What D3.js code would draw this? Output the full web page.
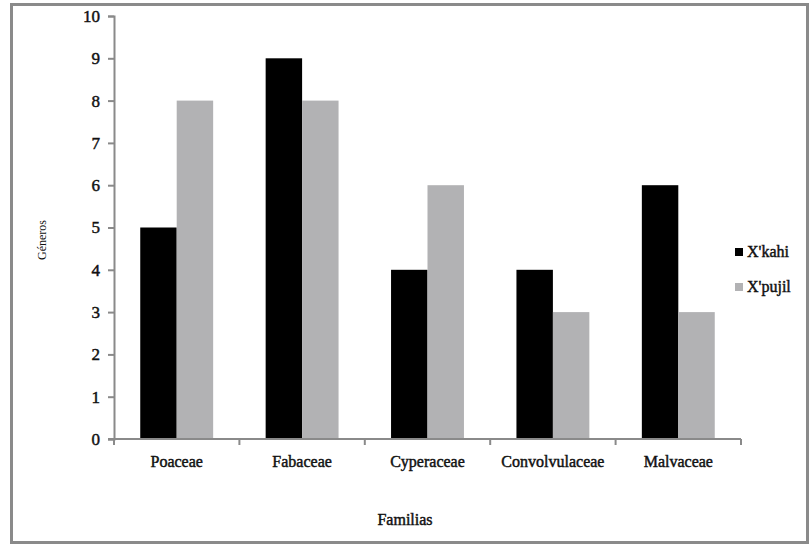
<!DOCTYPE html>
<html>
<head>
<meta charset="utf-8">
<script src="https://cdn.jsdelivr.net/npm/d3@7"></script>
<style>
  body { margin: 0; background: #fff; }
  svg text { font-family: "Times New Roman", "Liberation Serif", "DejaVu Serif", serif !important; fill: #111; }
  .lab { stroke: #111; stroke-width: 0.45px; }
</style>
</head>
<body>
<div id="chart"></div>
<script>
// chart data
var familias = ["Poaceae", "Fabaceae", "Cyperaceae", "Convolvulaceae", "Malvaceae"];
var series = ["X'kahi", "X'pujil"];
var xkahi = [5, 9, 4, 4, 6];
var xpujil = [8, 8, 6, 3, 3];
var yTicks = [0, 1, 2, 3, 4, 5, 6, 7, 8, 9, 10];
var colors = ["#000000", "#b2b2b4"];

var width = 811, height = 546;
var margin = {top: 16, left: 114, right: 70, bottom: 107};

var svg = d3.select("#chart").append("svg")
    .attr("width", width)
    .attr("height", height);

// outer frame
svg.append("rect")
    .attr("x", 11.5).attr("y", 4.5)
    .attr("width", 796).attr("height", 538)
    .attr("fill", "#fff")
    .attr("stroke", "#8a8a8a")
    .attr("stroke-width", 3);

var x = d3.scaleBand()
    .domain(familias)
    .range([margin.left, 741]);

var xInner = d3.scaleBand()
    .domain(series)
    .range([0, x.bandwidth()])
    .paddingInner(0)
    .paddingOuter(0.72);

var y = d3.scaleLinear()
    .domain([0, 10])
    .range([439, margin.top]);

var rows = familias.map(function(f, i){
    return {fam: f, vals: [xkahi[i], xpujil[i]]};
});

// bars
var g = svg.selectAll(".grp").data(rows).enter().append("g")
    .attr("transform", function(d){ return "translate(" + x(d.fam) + ",0)"; });

g.selectAll("rect").data(function(d){
        return d.vals.map(function(v, j){ return {s: series[j], v: v, c: colors[j]}; });
    })
    .enter().append("rect")
    .attr("x", function(d){ return xInner(d.s); })
    .attr("width", xInner.bandwidth())
    .attr("y", function(d){ return y(d.v); })
    .attr("height", function(d){ return y(0) - y(d.v); })
    .attr("fill", function(d){ return d.c; });

// y axis
var yAxis = svg.append("g")
    .attr("transform", "translate(" + margin.left + ",0)")
    .call(d3.axisLeft(y).tickValues(yTicks).tickSize(6).tickPadding(8).tickFormat(d3.format("d")));
yAxis.attr("font-family", null);
yAxis.selectAll("path, line").attr("stroke", "#8a8a8a").attr("stroke-width", 2);
yAxis.selectAll("text").attr("font-size", 17).attr("class", "lab");

// x axis: ticks at the band edges
var xAxis = svg.append("g")
    .attr("transform", "translate(0," + y(0) + ")");
xAxis.append("line")
    .attr("x1", margin.left - 6).attr("x2", 741)
    .attr("stroke", "#8a8a8a").attr("stroke-width", 2);
var edges = familias.map(function(f){ return x(f); }).concat([741]);
xAxis.selectAll(".edge").data(edges).enter().append("line")
    .attr("x1", function(d){ return d; }).attr("x2", function(d){ return d; })
    .attr("y1", 0).attr("y2", 6)
    .attr("stroke", "#8a8a8a").attr("stroke-width", 2);
xAxis.selectAll(".lbl").data(familias).enter().append("text")
    .attr("class", "lab")
    .attr("x", function(d){ return x(d) + x.bandwidth() / 2; })
    .attr("y", 28)
    .attr("text-anchor", "middle")
    .attr("font-size", 16)
    .text(function(d){ return d; });

// axis titles
svg.append("text")
    .attr("class", "lab")
    .attr("x", 405).attr("y", 525)
    .attr("text-anchor", "middle")
    .attr("font-size", 16)
    .text("Familias");

svg.append("text")
    .attr("transform", "translate(46,240) rotate(-90)")
    .attr("text-anchor", "middle")
    .attr("font-size", 12)
    .text("Géneros");

// legend
var leg = svg.selectAll(".leg").data(series).enter().append("g")
    .attr("transform", function(d, i){ return "translate(735," + (248 + i * 35) + ")"; });
leg.append("rect")
    .attr("width", 8).attr("height", 8)
    .attr("fill", function(d, i){ return colors[i]; });
leg.append("text")
    .attr("class", "lab")
    .attr("x", 12).attr("y", 9)
    .attr("font-size", 16)
    .text(function(d){ return d; });
</script>
</body>
</html>
